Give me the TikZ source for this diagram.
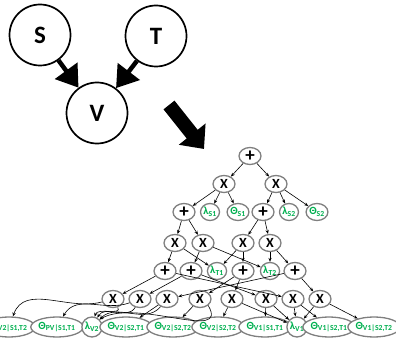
\documentclass[tikz,border=0pt]{standalone}
\usepackage{fontspec}
\setmainfont{Carlito}
\usetikzlibrary{arrows.meta,shapes.geometric}
\definecolor{LGreen}{HTML}{00B050}
\definecolor{NGray}{HTML}{7F7F7F}

\begin{document}
\begin{tikzpicture}[
  x=1pt,y=-1pt,
  bn/.style={circle,draw,line width=1.7pt,minimum size=61pt,inner sep=0pt,
    font=\fontsize{25}{25}\selectfont\bfseries},
  bnarr/.style={-{Triangle[length=21pt,width=27pt]},line width=4.5pt},
  bigarr/.style={-{Triangle[length=19pt,width=33pt]},line width=14pt},
  op/.style={ellipse,draw=NGray,line width=1.3pt,fill=white,inner sep=0pt,
    minimum width=22pt,minimum height=17pt,font=\fontsize{14}{14}\selectfont\bfseries},
  sm/.style={op,font=\fontsize{19}{19}\selectfont\bfseries},
  lf/.style={op,text=LGreen,minimum width=19pt,font=\fontsize{11}{11}\selectfont\bfseries},
  wl/.style={lf,minimum width=45pt,minimum height=20pt},
  e/.style={-{Stealth[length=4pt,width=3.2pt]},line width=0.6pt}
]
  \useasboundingbox (0,0) rectangle (396,342);

  % Bayesian network
  \node[bn] (S) at (40,35) {S};
  \node[bn] (T) at (156,36) {T};
  \node[bn] (V) at (97,113) {V};
  \draw[bnarr] (S) -- (V);
  \draw[bnarr] (T) -- (V);

  % compiles into
  \coordinate (ba) at (169,105);
  \coordinate (bb) at (204,149);
  \draw[bigarr] (ba) -- (bb);

  % sum-product network, top rows
  \node[sm] (root) at (250,156) {+};
  \node[op] (xl) at (224,184) {X};
  \node[op] (xr) at (276,184) {X};
  \node[sm] (p1) at (184,212) {+};
  \node[lf] (ls1) at (210,212) {λ\textsubscript{S1}};
  \node[lf] (ts1) at (238,212) {Θ\textsubscript{S1}};
  \node[sm] (p2) at (263,212) {+};
  \node[lf] (ls2) at (289,212) {λ\textsubscript{S2}};
  \node[lf] (ts2) at (317,212) {Θ\textsubscript{S2}};
  \foreach \n/\x in {x1/175,x2/203,x3/243,x4/270}
    \node[op] (\n) at (\x,243) {X};
  \foreach \n/\x in {q1/165,q2/191,q3/243,q4/295}
    \node[sm] (\n) at (\x,271) {+};
  \node[lf] (lt1) at (217,271) {λ\textsubscript{T1}};
  \node[lf] (lt2) at (270,271) {λ\textsubscript{T2}};
  \foreach \n/\x in {m1/113,m2/140,m3/167,m4/200,m5/232,m6/266,m7/293,m8/320}
    \node[op] (\n) at (\x,299) {X};

  % leaves
  \node[wl] (f1) at (9,327) {Θ\textsubscript{V2|S1,T2}};
  \node[wl] (f2) at (57,327) {Θ\textsubscript{PV|S1,T1}};
  \node[lf,minimum height=20pt] (lv2) at (92,327) {λ\textsubscript{V2}};
  \node[wl] (f3) at (126,327) {Θ\textsubscript{V2|S2,T1}};
  \node[wl] (f4) at (173,327) {Θ\textsubscript{V2|S2,T2}};
  \node[wl] (f5) at (218,327) {Θ\textsubscript{V2|S2,T2}};
  \node[wl] (f6) at (265,327) {Θ\textsubscript{V1|S1,T1}};
  \node[lf,minimum height=20pt] (lv1) at (297,327) {λ\textsubscript{V1}};
  \node[wl] (f7) at (329,327) {Θ\textsubscript{V1|S2,T1}};
  \node[wl] (f8) at (374,327) {Θ\textsubscript{V1|S2,T2}};

  % edges
  \foreach \a/\b in {root/xl,root/xr,xl/p1,xl/ls1,xl/ts1,xr/p2,xr/ls2,xr/ts2,
    p1/x1,p1/x2,p2/x3,p2/x4,x1/q1,x1/lt1,x2/q2,x2/lt2,x3/lt1,x3/q3,x4/lt2,x4/q4,
    q1/m1,q1/m7,q2/m2,q2/m6,q3/m4,q3/m5,q4/m3,q4/m8,
    m3/f3,m4/f4,m5/f5,m5/lv1,m6/f6,m6/lv1,m7/lv1,m7/f7,m8/lv1,m8/f8}
    \draw[e] (\a) -- (\b);
  \draw[e] (m1) to[out=195,in=70] (f1);
  \draw[e] (m2) to[out=200,in=60] (f2);
  \draw[e] (m1) to[out=-60,in=75] (lv2);
  \draw[e] (m2) to[out=-120,in=60] (lv2);
  \draw[e] (m3) to[out=-130,in=45] (lv2);
  \draw[e] (m4.south east) to[out=-60,in=30] (lv2.north east);
\end{tikzpicture}
\end{document}
